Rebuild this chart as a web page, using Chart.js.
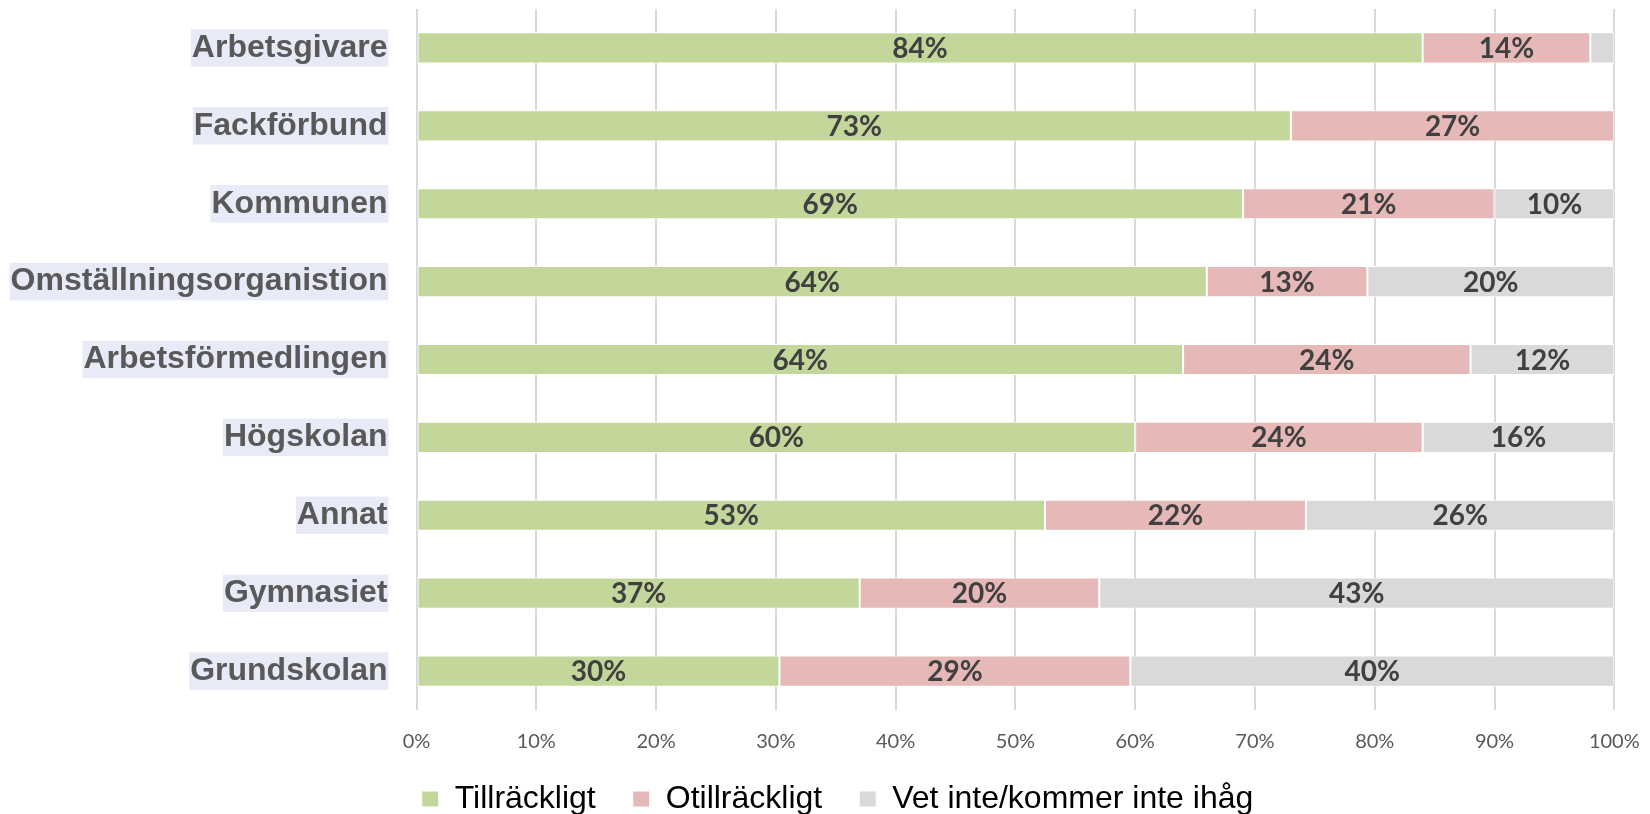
<!DOCTYPE html>
<html>
<head>
<meta charset="utf-8">
<script src="https://cdn.jsdelivr.net/npm/chart.js@4.4.1/dist/chart.umd.min.js"></script>
<style>
  html, body { margin: 0; padding: 0; background: #ffffff; }
  #wrap { width: 1650px; height: 814px; position: relative; }
</style>
</head>
<body>
<div id="wrap"><canvas id="c" width="1650" height="814"></canvas></div>
<script>
const categories = ["Arbetsgivare", "Fackförbund", "Kommunen", "Omställningsorganistion", "Arbetsförmedlingen", "Högskolan", "Annat", "Gymnasiet", "Grundskolan"];
const seriesNames = ["Tillräckligt", "Otillräckligt", "Vet inte/kommer inte ihåg"];
const tillrackligt = [84, 73, 69, 64, 64, 60, 53, 37, 30];
const otillrackligt = [14, 27, 21, 13, 24, 24, 22, 20, 29];
const vetInte = [2, 0, 10, 20, 12, 16, 26, 43, 40];
const xTickValues = [0, 10, 20, 30, 40, 50, 60, 70, 80, 90, 100];

const rawSeries = [tillrackligt, otillrackligt, vetInte];
const colors = ["#C4D79B", "#E6B8B7", "#D9D9D9"];

// 100% stacked: each row is shown as share of its own total
const rowTotals = categories.map((_, i) => rawSeries.reduce((s, arr) => s + arr[i], 0));
const normalized = rawSeries.map(arr => arr.map((v, i) => v / rowTotals[i] * 100));

const labelPlugin = {
  id: 'segLabels',
  afterLayout(chart) {
    // position the legend row like the original (centred under the figure)
    const lg = chart.legend;
    if (lg) {
      const h = lg.bottom - lg.top;
      lg.left = 60.7;
      lg.top = 746;
      lg.bottom = 746 + h;
    }
  },
  afterDatasetsDraw(chart) {
    const ctx = chart.ctx;
    ctx.save();
    ctx.font = 'bold 28px Lato';
    ctx.fillStyle = '#404040';
    ctx.textAlign = 'center';
    ctx.textBaseline = 'middle';
    chart.data.datasets.forEach((ds, di) => {
      const meta = chart.getDatasetMeta(di);
      meta.data.forEach((bar, j) => {
        const raw = rawSeries[di][j];
        if (raw < 5) return;
        const cx = (bar.x + bar.base) / 2;
        ctx.fillText(raw + '%', cx, bar.y + 1);
      });
    });
    ctx.restore();
  }
};

new Chart(document.getElementById('c'), {
  type: 'bar',
  data: {
    labels: categories,
    datasets: seriesNames.map((name, i) => ({
      label: name,
      data: normalized[i],
      backgroundColor: colors[i],
      borderColor: '#ffffff',
      borderWidth: 1,
      borderSkipped: false,
      barPercentage: 0.4,
      categoryPercentage: 1.0
    }))
  },
  options: {
    indexAxis: 'y',
    responsive: false,
    animation: false,
    devicePixelRatio: 1,
    layout: { padding: { left: 0, right: 35.7, top: 9, bottom: -39 } },
    scales: {
      x: {
        stacked: true,
        min: 0,
        max: 100,
        afterBuildTicks(scale) { scale.ticks = xTickValues.map(v => ({ value: v })); },
        afterFit(scale) { scale.paddingLeft = 0; scale.paddingRight = 0; },
        grid: { color: '#D9D9D9', lineWidth: 2, drawTicks: false },
        border: { display: false },
        ticks: {
          padding: 31,
          color: '#595959',
          font: { family: 'Lato', size: 20, lineHeight: '2px' },
          callback: v => v + '%'
        }
      },
      y: {
        stacked: true,
        afterFit(scale) { scale.width = 416.5; scale.paddingTop = 0; scale.paddingBottom = 0; },
        grid: { display: false, drawTicks: false },
        border: { display: false },
        ticks: {
          padding: 29,
          color: '#595959',
          font: { family: 'Liberation Sans', size: 32, weight: 'bold', lineHeight: 1.17 },
          showLabelBackdrop: true,
          backdropColor: '#E8EBF7',
          backdropPadding: { top: 0, bottom: 0, left: 1, right: 1 }
        }
      }
    },
    plugins: {
      legend: {
        position: 'bottom',
        labels: {
          color: '#000000',
          font: { family: 'Liberation Sans', size: 32 },
          boxWidth: 17,
          boxHeight: 16,
          padding: 37
        }
      },
      tooltip: { enabled: false }
    }
  },
  plugins: [labelPlugin]
});
</script>
</body>
</html>
